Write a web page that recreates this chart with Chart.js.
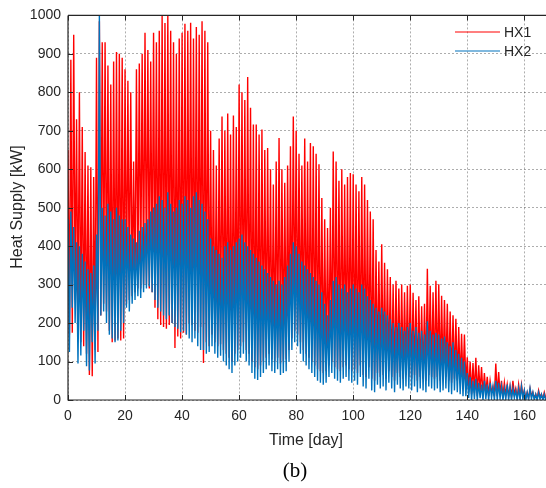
<!DOCTYPE html>
<html>
<head>
<meta charset="utf-8">
<script src="https://cdn.jsdelivr.net/npm/chart.js@4.4.1/dist/chart.umd.min.js"></script>
<style>
  html, body { margin: 0; padding: 0; background: #fff; }
</style>
</head>
<body>
<canvas id="chart" width="546" height="488"></canvas>
<script>
// daily peak / trough readings (kW), one value per day from day 0
const hx1Peak = [
  650, 885, 950, 730, 800, 710, 645, 610, 605, 580,
  890, 985, 930, 930, 870, 820, 880, 905, 900, 890,
  860, 830, 800, 620, 860, 875, 900, 955, 910, 880,
  955, 930, 960, 1000, 980, 1000, 960, 930, 900, 940,
  955, 978, 960, 981, 940, 970, 950, 985, 960, 930,
  700, 650, 610, 680, 737, 700, 745, 690, 740, 710,
  820, 800, 780, 840, 760, 716, 716, 690, 703, 650,
  655, 600, 560, 620, 681, 600, 565, 610, 660, 737,
  700, 640, 610, 680, 620, 668, 660, 640, 613, 525,
  470, 447, 500, 646, 620, 570, 600, 560, 580, 590,
  587, 560, 543, 580, 560, 520, 490, 470, 390, 360,
  405, 357, 340, 320, 300, 310, 290, 300, 280, 297,
  300, 279, 260, 270, 244, 250, 341, 297, 280, 310,
  301, 271, 260, 250, 230, 220, 211, 190, 172, 170,
  111, 100, 96, 110, 90, 86, 70, 60, 50, 34,
  95, 73, 50, 45, 40, 35, 50, 30, 40, 40,
  25, 20, 30, 20, 15, 25, 15, 20
];
const hx1Trough = [
  170, 175, 260, 180, 150, 140, 120, 65, 62, 130,
  125, 220, 250, 230, 180, 150, 155, 160, 155, 160,
  250, 260, 270, 280, 290, 290, 300, 300, 290, 280,
  240, 210, 195, 190, 185, 195, 200, 135, 165, 160,
  175, 170, 200, 195, 180, 175, 190, 96, 150, 140,
  170, 150, 140, 145, 130, 120, 110, 100, 120, 130,
  140, 150, 130, 120, 100, 85, 80, 90, 100, 110,
  120, 105, 100, 110, 95, 100, 105, 130, 160, 180,
  170, 150, 130, 120, 110, 100, 90, 80, 75, 70,
  75, 90, 100, 85, 80, 75, 85, 90, 80, 75,
  80, 70, 90, 65, 60, 85, 55, 50, 70, 60,
  65, 55, 75, 60, 50, 70, 60, 55, 65, 60,
  55, 65, 50, 60, 55, 50, 65, 60, 55, 60,
  50, 55, 60, 50, 45, 55, 50, 45, 40, 40,
  20, 15, 18, 10, 20, 10, 15, 10, 20, 10,
  10, 15, 8, 12, 10, 8, 15, 5, 8, 10,
  5, 5, 10, 5, 3, 8, 3, 5
];
const hx2Peak = [
  470, 490, 450, 410, 400, 380, 360, 340, 330, 350,
  430, 1000, 500, 480, 510, 490, 470, 500, 480, 470,
  470, 450, 430, 420, 410, 440, 450, 460, 470, 490,
  500, 510, 530, 520, 500, 540, 510, 490, 500, 520,
  510, 530, 520, 500, 530, 540, 520, 510, 490, 470,
  420, 400, 390, 380, 370, 400, 410, 390, 400, 410,
  420, 430, 410, 400, 390, 380, 370, 360, 350, 340,
  330, 320, 310, 300, 310, 300, 320, 350, 380, 410,
  400, 380, 360, 350, 340, 330, 320, 310, 300, 280,
  250, 220, 260, 310, 320, 300, 290, 300, 280, 290,
  300, 290, 280, 300, 290, 270, 260, 250, 240, 230,
  240, 230, 220, 210, 200, 190, 200, 190, 180, 190,
  200, 180, 190, 175, 180, 170, 205, 180, 170, 175,
  170, 160, 165, 150, 140, 150, 130, 120, 110, 100,
  70, 60, 50, 55, 45, 40, 50, 40, 45, 35,
  50, 45, 35, 30, 40, 35, 30, 25, 30, 35,
  25, 20, 30, 20, 15, 20, 15, 15
];
const hx2Trough = [
  125, 240, 200, 95, 116, 180, 88, 77, 150, 95,
  180, 220, 230, 200, 170, 160, 150, 155, 180, 200,
  240, 230, 250, 260, 270, 265, 280, 290, 295, 280,
  260, 240, 230, 220, 210, 220, 200, 190, 185, 176,
  180, 170, 160, 150, 160, 140, 130, 130, 120, 125,
  140, 120, 110, 115, 100, 90, 80, 70, 90, 100,
  110, 120, 100, 90, 70, 55, 52, 60, 70, 80,
  90, 75, 70, 80, 65, 70, 75, 100, 130, 150,
  140, 120, 100, 90, 80, 70, 60, 50, 45, 40,
  45, 60, 70, 55, 50, 45, 55, 60, 50, 45,
  50, 40, 60, 35, 30, 55, 25, 20, 40, 30,
  35, 25, 45, 30, 20, 40, 30, 25, 35, 30,
  25, 35, 20, 30, 25, 20, 35, 30, 25, 30,
  20, 25, 30, 20, 15, 25, 20, 15, 10, 10,
  5, 0, 3, 0, 5, 0, 2, 0, 5, 0,
  0, 3, 0, 2, 0, 0, 5, 0, 0, 2,
  0, 0, 3, 0, 0, 2, 0, 0
];

const xTicks = [0, 20, 40, 60, 80, 100, 120, 140, 160];
const yTicks = [0, 100, 200, 300, 400, 500, 600, 700, 800, 900, 1000];
const seriesNames = ['HX1', 'HX2'];
const seriesColors = ['#ff0000', '#0072bd'];

const sans = "'Liberation Sans', Arial, sans-serif";
const ink = '#262626';

function dailyPoints(peaks, troughs) {
  const pts = [];
  peaks.forEach((p, d) => {
    pts.push({ x: d, y: p });
    pts.push({ x: d + 0.5, y: troughs[d] });
  });
  return pts;
}

const frame = {
  id: 'frame',
  afterDraw(chart) {
    const { ctx, chartArea: a, scales: { x, y } } = chart;
    ctx.save();
    ctx.strokeStyle = ink;
    ctx.lineWidth = 1.2;
    ctx.beginPath();
    ctx.moveTo(a.left, a.top);
    ctx.lineTo(a.right + 2, a.top);
    ctx.moveTo(a.left, a.top);
    ctx.lineTo(a.left, a.bottom);
    ctx.lineTo(a.right + 2, a.bottom);
    ctx.stroke();

    // inward ticks
    ctx.lineWidth = 1;
    ctx.beginPath();
    xTicks.forEach(v => {
      const px = Math.round(x.getPixelForValue(v)) + 0.5;
      ctx.moveTo(px, a.bottom); ctx.lineTo(px, a.bottom - 5);
      ctx.moveTo(px, a.top); ctx.lineTo(px, a.top + 5);
    });
    yTicks.forEach(v => {
      const py = Math.round(y.getPixelForValue(v)) + 0.5;
      ctx.moveTo(a.left, py); ctx.lineTo(a.left + 5, py);
    });
    ctx.stroke();

    // legend
    ctx.font = '14px ' + sans;
    ctx.textBaseline = 'middle';
    ctx.textAlign = 'left';
    seriesNames.forEach((name, i) => {
      const ly = 32 + i * 19;
      ctx.strokeStyle = seriesColors[i];
      ctx.lineWidth = 1.2;
      ctx.beginPath();
      ctx.moveTo(455, ly);
      ctx.lineTo(500, ly);
      ctx.stroke();
      ctx.fillStyle = ink;
      ctx.fillText(name, 504, ly + 1);
    });

    // axis titles
    ctx.fillStyle = ink;
    ctx.font = '16px ' + sans;
    ctx.textAlign = 'center';
    ctx.fillText('Time [day]', 306, 441);
    ctx.save();
    ctx.translate(18, 207);
    ctx.rotate(-Math.PI / 2);
    ctx.fillText('Heat Supply [kW]', 0, 0);
    ctx.restore();

    ctx.fillStyle = '#000';
    ctx.font = "21px 'Liberation Serif', 'Times New Roman', serif";
    ctx.fillText('(b)', 295, 471);
    ctx.restore();
  }
};

new Chart(document.getElementById('chart'), {
  type: 'line',
  data: {
    datasets: [
      {
        label: seriesNames[0],
        data: dailyPoints(hx1Peak, hx1Trough),
        borderColor: seriesColors[0],
        borderWidth: 1.4,
        pointRadius: 0,
        tension: 0,
        order: 1
      },
      {
        label: seriesNames[1],
        data: dailyPoints(hx2Peak, hx2Trough),
        borderColor: seriesColors[1],
        borderWidth: 1.4,
        pointRadius: 0,
        tension: 0,
        order: 0
      }
    ]
  },
  options: {
    responsive: false,
    animation: false,
    events: [],
    layout: { padding: { top: 13, right: 0, bottom: 0, left: 0 } },
    plugins: {
      legend: { display: false },
      tooltip: { enabled: false }
    },
    scales: {
      x: {
        type: 'linear',
        min: 0,
        max: 167.6,
        afterFit: s => { s.height = 88; },
        afterBuildTicks: s => { s.ticks = xTicks.map(v => ({ value: v })); },
        ticks: { color: ink, font: { family: sans, size: 14 }, padding: 8, maxRotation: 0, autoSkip: false,
          callback: v => String(v) },
        grid: { color: 'rgba(0,0,0,0.32)', lineWidth: 1, drawTicks: false, tickLength: 0 },
        border: { display: false, dash: [2, 2] }
      },
      y: {
        min: 0,
        max: 1000,
        afterFit: s => { s.width = 68; },
        afterBuildTicks: s => { s.ticks = yTicks.map(v => ({ value: v })); },
        ticks: { color: ink, font: { family: sans, size: 14 }, padding: 7, autoSkip: false,
          callback: v => String(v) },
        grid: { color: 'rgba(0,0,0,0.32)', lineWidth: 1, drawTicks: false, tickLength: 0 },
        border: { display: false, dash: [2, 2] }
      }
    }
  },
  plugins: [frame]
});
</script>
</body>
</html>
